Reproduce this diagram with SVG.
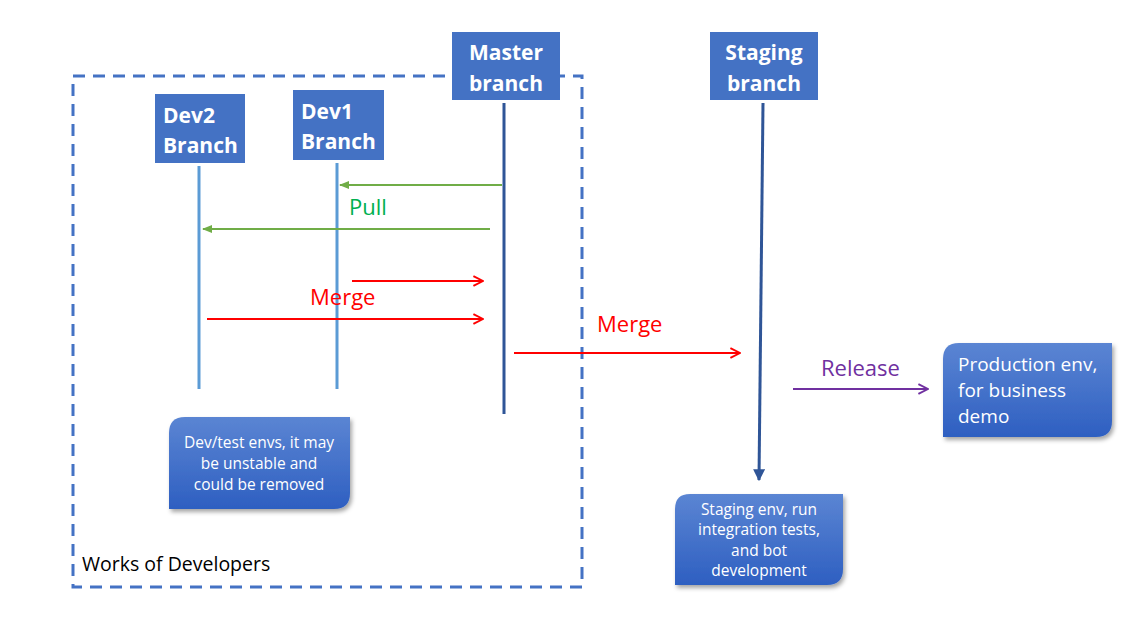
<svg xmlns="http://www.w3.org/2000/svg" width="1138" height="640" viewBox="0 0 1138 640">
<defs>
<linearGradient id="envg" x1="0" y1="0" x2="0" y2="1">
<stop offset="0" stop-color="#5B85D3"/>
<stop offset="1" stop-color="#2E5FC1"/>
</linearGradient>
<filter id="sh" x="-10%" y="-10%" width="125%" height="130%">
<feDropShadow dx="2" dy="3" stdDev="2.5" flood-color="#000" flood-opacity="0.35"/>
</filter>
<marker id="ag" viewBox="0 0 10 10" refX="9" refY="5" markerWidth="5" markerHeight="5" orient="auto"><path d="M0,1 L10,5 L0,9 z" fill="#70AD47"/></marker>
<marker id="ar" viewBox="0 0 10 10" refX="9" refY="5" markerWidth="6" markerHeight="6" orient="auto"><path d="M1,1 L9,5 L1,9" fill="none" stroke="#FF0000" stroke-width="1.6"/></marker>
<marker id="ap" viewBox="0 0 10 10" refX="9" refY="5" markerWidth="6" markerHeight="6" orient="auto"><path d="M1,1 L9,5 L1,9" fill="none" stroke="#7030A0" stroke-width="1.6"/></marker>
<marker id="ab" viewBox="0 0 10 10" refX="9" refY="5" markerWidth="4" markerHeight="4" orient="auto"><path d="M0,0 L10,5 L0,10 z" fill="#2F5597"/></marker>
</defs>
<style>
.br{fill:#4472C4}
.bt{font-family:"Open Sans","Noto Sans",sans-serif;font-weight:bold;font-size:21px;fill:#fff}
.et{font-family:"Open Sans","Noto Sans",sans-serif;font-size:15.5px;fill:#fff;text-anchor:middle}
.pt{font-family:"Open Sans","Noto Sans",sans-serif;font-size:19px;fill:#fff}
.lab{font-family:"Open Sans","Noto Sans",sans-serif;font-size:22px}
.env{fill:url(#envg);filter:url(#sh)}
</style>
<rect width="1138" height="640" fill="#fff"/>
<g id="developers-area">
<rect x="73" y="76" width="509" height="511" fill="none" stroke="#4472C4" stroke-width="3" stroke-dasharray="12,8"/>
<text x="82" y="571" font-family="Open Sans,Noto Sans,sans-serif" font-size="19.5" fill="#000">Works of Developers</text>
</g>
<g id="connectors">
<line x1="199" y1="166" x2="199" y2="389" stroke="#5B9BD5" stroke-width="3"/>
<line x1="337" y1="163" x2="337" y2="389" stroke="#5B9BD5" stroke-width="3"/>
<line x1="504" y1="103" x2="504" y2="414" stroke="#2F5597" stroke-width="3"/>
<line x1="763" y1="103" x2="759" y2="480" stroke="#2F5597" stroke-width="3" marker-end="url(#ab)"/>
<line x1="502" y1="185" x2="340" y2="185" stroke="#70AD47" stroke-width="2" marker-end="url(#ag)"/>
<line x1="490" y1="229" x2="203" y2="229" stroke="#70AD47" stroke-width="2" marker-end="url(#ag)"/>
<text x="349" y="215" class="lab" fill="#00B050">Pull</text>
<line x1="352" y1="281" x2="483" y2="281" stroke="#FF0000" stroke-width="2" marker-end="url(#ar)"/>
<line x1="207" y1="319" x2="483" y2="319" stroke="#FF0000" stroke-width="2" marker-end="url(#ar)"/>
<text x="310" y="305" class="lab" fill="#FF0000">Merge</text>
<line x1="514" y1="353" x2="740" y2="353" stroke="#FF0000" stroke-width="2" marker-end="url(#ar)"/>
<text x="597" y="332" class="lab" fill="#FF0000">Merge</text>
<line x1="793" y1="389" x2="928" y2="389" stroke="#7030A0" stroke-width="2" marker-end="url(#ap)"/>
<text x="821" y="376" class="lab" fill="#7030A0">Release</text>
</g>
<g id="master">
<rect x="452" y="32" width="108" height="68" class="br"/>
<text x="506" y="60" class="bt" text-anchor="middle">Master</text>
<text x="506" y="91" class="bt" text-anchor="middle">branch</text>
</g>
<g id="staging">
<rect x="710" y="32" width="108" height="68" class="br"/>
<text x="764" y="60" class="bt" text-anchor="middle">Staging</text>
<text x="764" y="91" class="bt" text-anchor="middle">branch</text>
</g>
<g id="dev2">
<rect x="155" y="94" width="90" height="69" class="br"/>
<text x="163" y="123" class="bt">Dev2</text>
<text x="163" y="153" class="bt">Branch</text>
</g>
<g id="dev1">
<rect x="293" y="90" width="91" height="70" class="br"/>
<text x="301" y="119" class="bt">Dev1</text>
<text x="301" y="149" class="bt">Branch</text>
</g>
<g id="dev-env">
<path d="M185,417 H350 V493 Q350,509 334,509 H169 V433 Q169,417 185,417 Z" class="env"/>
<text x="259" y="448" class="et">Dev/test envs, it may</text>
<text x="259" y="469" class="et">be unstable and</text>
<text x="259" y="490" class="et">could be removed</text>
</g>
<g id="staging-env">
<path d="M690,494 H843 V569 Q843,585 827,585 H675 V509 Q675,494 690,494 Z" class="env"/>
<text x="759" y="515" class="et">Staging env, run</text>
<text x="759" y="535" class="et">integration tests,</text>
<text x="759" y="556" class="et">and bot</text>
<text x="759" y="576" class="et">development</text>
</g>
<g id="production-env">
<path d="M959,343 H1112 V421 Q1112,437 1096,437 H943 V359 Q943,343 959,343 Z" class="env"/>
<text x="958" y="371" class="pt">Production env,</text>
<text x="958" y="397" class="pt">for business</text>
<text x="958" y="423" class="pt">demo</text>
</g>
</svg>
